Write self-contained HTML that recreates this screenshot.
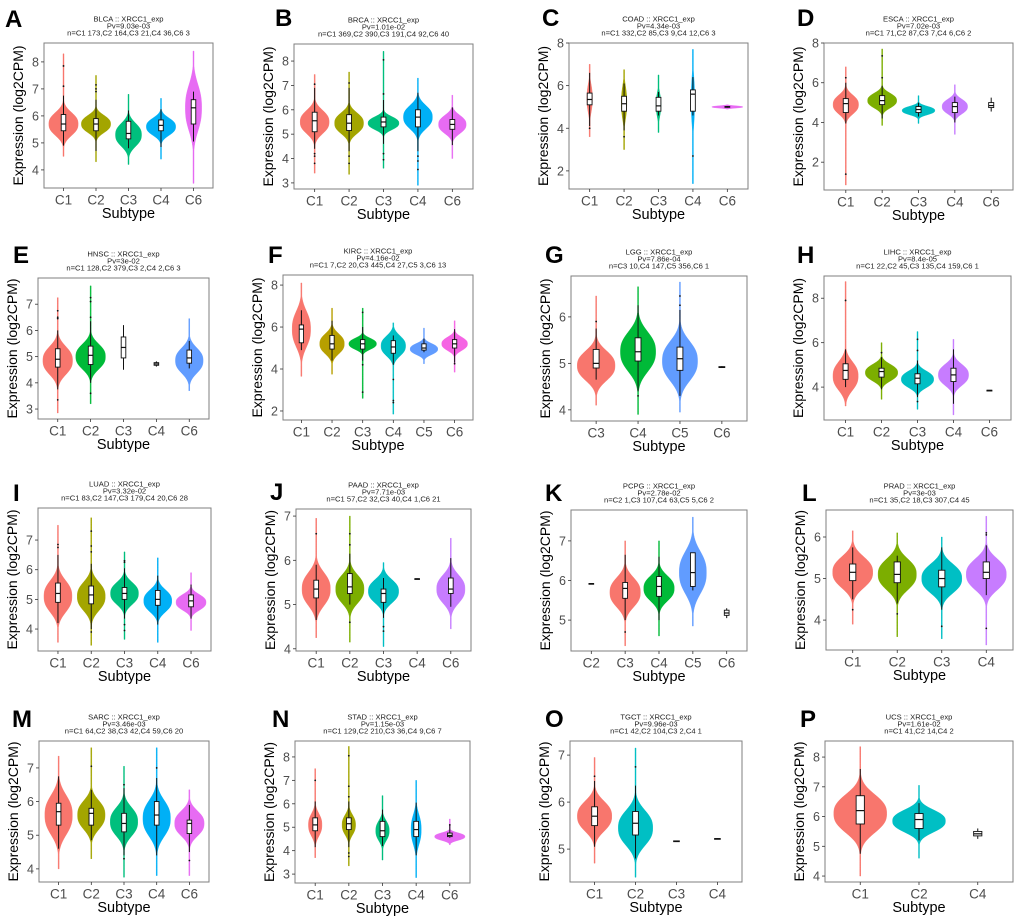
<!DOCTYPE html>
<html><head><meta charset="utf-8">
<style>
html,body{margin:0;padding:0;background:#fff;}
svg{display:block;font-family:"Liberation Sans",Arial,sans-serif;}
</style></head>
<body>
<svg id="fig" width="1020" height="920" viewBox="0 0 1020 920" xmlns="http://www.w3.org/2000/svg"></svg>
<script>
// ---------- data ----------
const panelLetters=["A","B","C","D","E","F","G","H","I","J","K","L","M","N","O","P"];
const panelCodes=["BLCA","BRCA","COAD","ESCA","HNSC","KIRC","LGG","LIHC","LUAD","PAAD","PCPG","PRAD","SARC","STAD","TGCT","UCS"];
const panelPvals=["9.03e-03","1.01e-02","4.34e-03","7.02e-03","3e-02","4.16e-02","7.86e-04","8.4e-05","3.32e-02","7.71e-03","2.78e-02","3e-03","3.46e-03","1.15e-03","9.96e-03","1.61e-02"];
const panelNs=["C1 173,C2 164,C3 21,C4 36,C6 3","C1 369,C2 390,C3 191,C4 92,C6 40","C1 332,C2 85,C3 9,C4 12,C6 3","C1 71,C2 87,C3 7,C4 6,C6 2",
"C1 128,C2 379,C3 2,C4 2,C6 3","C1 7,C2 20,C3 445,C4 27,C5 3,C6 13","C3 10,C4 147,C5 356,C6 1","C1 22,C2 45,C3 135,C4 159,C6 1",
"C1 83,C2 147,C3 179,C4 20,C6 28","C1 57,C2 32,C3 40,C4 1,C6 21","C2 1,C3 107,C4 63,C5 5,C6 2","C1 35,C2 18,C3 307,C4 45",
"C1 64,C2 38,C3 42,C4 59,C6 20","C1 129,C2 210,C3 36,C4 9,C6 7","C1 42,C2 104,C3 2,C4 1","C1 41,C2 14,C4 2"];
const panelCategories=[["C1","C2","C3","C4","C6"],["C1","C2","C3","C4","C6"],["C1","C2","C3","C4","C6"],["C1","C2","C3","C4","C6"],
["C1","C2","C3","C4","C6"],["C1","C2","C3","C4","C5","C6"],["C3","C4","C5","C6"],["C1","C2","C3","C4","C6"],
["C1","C2","C3","C4","C6"],["C1","C2","C3","C4","C6"],["C2","C3","C4","C5","C6"],["C1","C2","C3","C4"],
["C1","C2","C3","C4","C6"],["C1","C2","C3","C4","C6"],["C1","C2","C3","C4"],["C1","C2","C4"]];
const yTicks=[[4,5,6,7,8],[3,4,5,6,7,8],[2,4,6,8],[2,4,6,8],[3,4,5,6,7],[2,4,6,8],[4,5,6],[4,6,8],
[4,5,6,7],[4,5,6,7],[5,6,7],[4,5,6],[4,5,6,7],[3,4,5,6,7,8],[5,6,7],[4,5,6,7,8]];
const yLimits=[[3.33,8.7],[2.75,8.7],[1.15,8.0],[0.6,8.0],[2.62,8.0],[1.57,8.48],[3.76,6.88],[2.52,9.0],
[3.26,8.08],[3.95,7.16],[4.22,7.78],[3.28,6.65],[3.61,7.8],[2.62,8.68],[4.3,7.3],[3.8,8.54]];
// violin params per group: [lo, hi, mode, sd, halfWidthFraction] or null (no violin)
const violinParams=[
[[4.5,8.3,5.7,.4,.45],[4.3,7.5,5.7,.3,.45],[4.2,6.8,5.3,.4,.4],[4.4,6.65,5.6,.3,.45],[3.5,8.4,6.3,.8,.25]],
[[3.4,7.45,5.5,.45,.42],[3.35,7.55,5.45,.4,.42],[3.6,8.4,5.45,.25,.45],[2.9,7.3,5.7,.45,.42],[4.0,6.6,5.4,.35,.4]],
[[3.6,7.0,5.4,.6,.08],[3.0,6.75,5.2,.7,.08],[3.8,6.5,5.1,.5,.07],[1.4,7.7,5.3,1,.05],[4.9,5.1,5.0,.05,.45]],
[[.85,6.8,4.9,.45,.35],[3.85,7.7,5.1,.35,.4],[3.95,5.35,4.6,.2,.45],[3.4,5.9,4.8,.35,.35],null],
[[2.85,7.25,4.85,.5,.45],[3.2,7.7,5.0,.45,.45],null,null,[3.7,6.45,4.85,.45,.42]],
[[3.65,8.1,5.9,.8,.3],[3.75,6.9,5.2,.45,.4],[2.6,6.9,5.2,.25,.45],[1.85,6.2,5.1,.45,.4],[4.25,5.95,4.95,.25,.45],[3.85,6.3,5.2,.3,.42]],
[[4.1,6.45,4.95,.3,.45],[3.9,6.65,5.25,.4,.42],[3.95,6.75,5.05,.4,.42],null],
[[3.15,8.75,4.5,.6,.35],[3.45,6.0,4.65,.35,.45],[3.0,6.5,4.35,.35,.45],[2.75,6.15,4.55,.45,.42],null],
[[3.55,7.5,5.1,.5,.42],[3.45,7.75,5.1,.45,.42],[3.65,6.6,5.2,.35,.42],[3.55,6.4,4.95,.35,.42],[3.95,5.9,4.9,.25,.45]],
[[4.25,6.95,5.35,.35,.42],[4.15,7.0,5.35,.3,.42],[4.05,5.95,5.3,.25,.45],null,[4.45,6.5,5.35,.3,.42]],
[null,[4.35,7.0,5.7,.35,.45],[4.6,7.0,5.8,.3,.45],[4.85,7.6,6.2,.5,.4],null],
[[3.9,6.15,5.15,.35,.45],[3.6,6.1,5.1,.35,.43],[3.55,6.0,5.0,.33,.45],[3.4,6.5,5.1,.35,.45]],
[[4.0,7.35,5.6,.55,.42],[4.3,7.6,5.6,.4,.42],[3.75,7.05,5.4,.4,.42],[3.8,7.6,5.5,.5,.42],[3.8,6.35,5.35,.35,.45]],
[[3.7,7.5,5.1,.45,.2],[3.35,8.45,5.1,.4,.2],[3.6,6.35,4.85,.4,.2],[2.85,7.0,4.9,.6,.15],[4.25,5.35,4.6,.15,.45]],
[[4.7,6.95,5.7,.3,.42],[4.4,7.15,5.45,.35,.42],null,null],
[[4.0,8.35,6.1,.6,.45],[4.6,7.05,5.85,.35,.45],null]];
// box stats per group: [whiskerLow, q1, median, q3, whiskerHigh]
const boxStats=[
[[4.9,5.45,5.7,6.05,6.75],[4.7,5.45,5.7,5.9,6.6],[4.8,5.15,5.35,5.8,6.2],[4.85,5.45,5.65,5.85,6.25],[5.05,5.7,6.3,6.6,6.9]],
[[4.4,5.1,5.55,5.9,6.9],[4.3,5.15,5.45,5.8,6.9],[4.6,5.3,5.5,5.7,6.4],[4.3,5.3,5.7,6.0,6.7],[4.55,5.2,5.4,5.6,6.1]],
[[4.1,5.1,5.35,5.65,6.6],[3.9,4.8,5.15,5.5,6.1],[4.6,4.8,5.05,5.45,5.7],[4.6,4.8,5.6,5.8,6.4],[4.97,4.99,5.0,5.02,5.04]],
[[3.95,4.5,4.95,5.2,6.0],[4.2,4.9,5.1,5.35,5.85],[4.3,4.5,4.65,4.8,5.0],[4.0,4.5,4.8,5.0,5.3],[4.55,4.75,4.85,5.0,5.25]],
[[3.75,4.6,4.9,5.3,6.0],[4.0,4.7,5.05,5.4,6.35],[4.5,4.95,5.35,5.75,6.2],[4.62,4.67,4.72,4.77,4.82],[4.55,4.75,4.95,5.25,5.6]],
[[4.9,5.25,5.9,6.1,6.8],[4.4,4.95,5.2,5.6,6.3],[4.4,4.95,5.2,5.4,6.0],[4.2,4.75,5.05,5.35,5.6],[4.8,4.9,5.0,5.2,5.45],[4.3,5.0,5.2,5.4,5.9]],
[[4.65,4.9,5.0,5.3,5.75],[4.4,5.05,5.25,5.55,6.25],[4.3,4.85,5.1,5.35,6.15],[4.9,4.91,4.92,4.93,4.94]],
[[4.0,4.35,4.75,5.05,5.7],[3.9,4.45,4.7,4.85,5.35],[3.55,4.15,4.4,4.6,5.2],[3.25,4.25,4.55,4.85,5.7],[3.83,3.84,3.85,3.86,3.87]],
[[4.2,4.9,5.2,5.55,6.5],[4.0,4.85,5.15,5.45,6.2],[4.35,5.0,5.2,5.4,6.05],[4.15,4.8,5.0,5.3,5.8],[4.35,4.75,4.95,5.15,5.5]],
[[4.65,5.15,5.35,5.55,5.9],[5.0,5.25,5.4,5.7,6.15],[4.7,5.05,5.25,5.35,5.6],[5.57,5.575,5.58,5.585,5.59],[4.95,5.25,5.35,5.6,6.05]],
[[5.91,5.915,5.92,5.925,5.93],[5.0,5.55,5.8,5.95,6.65],[5.0,5.6,5.85,6.1,6.6],[5.75,5.85,6.2,6.7,6.7],[5.05,5.12,5.18,5.25,5.3]],
[[4.5,4.95,5.15,5.35,5.75],[4.4,4.9,5.1,5.4,5.55],[4.25,4.8,5.0,5.2,5.75],[4.6,5.0,5.15,5.4,5.8]],
[[4.6,5.3,5.7,5.95,6.75],[4.85,5.3,5.65,5.8,6.35],[4.4,5.1,5.35,5.65,6.4],[4.4,5.3,5.6,6.0,6.7],[4.5,5.05,5.35,5.45,5.9]],
[[4.15,4.85,5.1,5.4,6.1],[4.15,4.9,5.15,5.4,6.1],[4.2,4.6,4.85,5.25,5.75],[3.8,4.6,4.9,5.25,6.05],[4.55,4.6,4.65,4.75,5.1]],
[[5.05,5.5,5.7,5.9,6.45],[4.8,5.3,5.55,5.8,6.35],[5.16,5.165,5.17,5.175,5.18],[5.21,5.215,5.22,5.225,5.23]],
[[4.75,5.75,6.2,6.7,7.6],[5.2,5.6,5.9,6.1,6.45],[5.25,5.35,5.42,5.5,5.6]]];
const outliers=[
[[7.1,7.85],[7.0,7.15,6.9],[],[],[]],
[[3.8,4.1,4.2,7.05],[3.8,4.1,7.1],[3.95,4.2,6.65,8.05],[3.55,3.9,4.1],[]],
[[4.0],[3.6],[],[2.7],[]],
[[1.4,6.25],[6.25,7.35],[],[],[]],
[[3.35,6.45,6.5,6.75],[3.6,6.5,7.1,7.25],[],[],[]],
[[],[],[2.9,4.2,6.7],[2.4,2.5,3.5],[],[4.25]],
[[5.9],[4.3],[6.25,6.45],[]],
[[7.9],[5.55],[3.35,5.65,6.15],[],[]],
[[6.75,6.85],[3.9,6.6,6.8,7.3],[3.95,4.15,6.25,6.3],[],[]],
[[6.6],[4.6,6.35,6.6],[4.4,4.5],[],[]],
[[],[4.7],[],[],[]],
[[4.25],[4.15],[3.85],[3.8,6.05,6.1]],
[[],[7.05],[4.3,6.5],[7.0],[4.25]],
[[7.0],[3.75,3.9,6.3,6.75,8.05],[],[],[5.1]],
[[6.55],[6.75],[],[]],
[[],[],[]]];

// ---------- layout (pixels) ----------
const plotBoxes=[[44,43,213,188],[294,44,473,189],[569,43,748,189],[824,43,1013,190],
[38,278,209,419],[283,275,473,420],[571,276,747,421],[824,276,1011,420],
[38,508,211,651],[296,509,471,651],[571,510,747,651],[826,510,1013,650],
[39,741,209,882],[295,741,470,883],[570,741,742,882],[825,741,1013,882]];
const letterPos=[[5,27],[275,26],[542,26],[797,26],[13,263],[268,263],[545,263],[797,263],
[13,501],[270,500],[545,501],[802,501],[12,727],[272,727],[545,727],[800,727]];
const palettes={1:["#F8766D"],2:["#F8766D","#00BFC4"],3:["#F8766D","#00BA38","#619CFF"],4:["#F8766D","#7CAE00","#00BFC4","#C77CFF"],
5:["#F8766D","#A3A500","#00BF7D","#00B0F6","#E76BF3"],6:["#F8766D","#B79F00","#00BA38","#00BFC4","#619CFF","#F564E3"]};

const NS="http://www.w3.org/2000/svg";
const svg=document.getElementById("fig");
function mk(tag,attrs,parent){const e=document.createElementNS(NS,tag);for(const k in attrs)e.setAttribute(k,attrs[k]);(parent||svg).appendChild(e);return e;}

panelLetters.forEach((L,p)=>{
  const g=mk("g",{});
  
  
  const [x0,y0,x1,y1]=plotBoxes[p];
  const [lo,hi]=yLimits[p];
  const yS=v=>y1-(v-lo)/(hi-lo)*(y1-y0);
  const cats=panelCategories[p];
  const step=(x1-x0)/(cats.length+0.2);
  const xS=i=>x0+step*(0.6+i);
  const cx=(x0+x1)/2;
  const lt=mk("text",{x:letterPos[p][0],y:letterPos[p][1],"font-size":24,"font-weight":"bold",fill:"#000"},g);
  lt.textContent=L;
  
  
  const tl=[panelCodes[p]+" :: XRCC1_exp","Pv="+panelPvals[p],"n="+panelNs[p]];
  tl.forEach((t,k)=>{
    const te=mk("text",{x:cx,y:y0-21.5+k*7,"font-size":7.6,"text-anchor":"middle",fill:"#222"},g);
    te.textContent=t;
    
    
  });
  const fr=mk("rect",{x:x0,y:y0,width:x1-x0,height:y1-y0,fill:"#fff",stroke:"#7f7f7f","stroke-width":1},g);
  
  
  yTicks[p].forEach(t=>{
    const y=yS(t);
    const tk=mk("line",{x1:x0-3,x2:x0,y1:y,y2:y,stroke:"#333","stroke-width":0.8},g);
    
    
    const tx=mk("text",{x:x0-5,y:y+4.5,"font-size":12.5,"text-anchor":"end",fill:"#4d4d4d"},g);
    tx.textContent=t;
    
    
  });
  const yl=mk("text",{x:0,y:0,"font-size":14,"text-anchor":"middle",fill:"#000",transform:`translate(${x0-21},${(y0+y1)/2}) rotate(-90)`},g);
  yl.textContent="Expression (log2CPM)";
  
  
  cats.forEach((c,i)=>{
    const tk=mk("line",{x1:xS(i),x2:xS(i),y1:y1,y2:y1+3,stroke:"#333","stroke-width":0.8},g);
    
    
    const tx=mk("text",{x:xS(i),y:y1+16.5,"font-size":13.5,"text-anchor":"middle",fill:"#4d4d4d"},g);
    tx.textContent=c;
    
    
  });
  const xl=mk("text",{x:cx,y:y1+30,"font-size":14.5,"text-anchor":"middle",fill:"#000"},g);
  xl.textContent="Subtype";
  
  
  const nV=violinParams[p].filter(v=>v).length;
  const pal=palettes[nV]||palettes[5];
  let ci=0;
  violinParams[p].forEach((vp,i)=>{
    const X=xS(i);
    if(vp){
      const [vlo,vhi,mode,sd,W]=vp;
      const N=70,left=[],right=[];
      for(let k=0;k<=N;k++){
        const v=vlo+(vhi-vlo)*k/N;
        const z=Math.abs((v-mode)/sd);
        const w=Math.max(0.5,W*step*Math.exp(-0.5*Math.pow(z,2.6)));
        const y=yS(v);
        right.push((X+w).toFixed(2)+","+y.toFixed(2));
        left.unshift((X-w).toFixed(2)+","+y.toFixed(2));
      }
      const vi=mk("polygon",{points:right.concat(left).join(" "),fill:pal[ci],stroke:pal[ci],"stroke-width":0.4},g);
      
      
      ci++;
    }
    const [wl,q1,md,q3,wh]=boxStats[p][i];
    const bw=Math.max(4,step*0.14);
    const w1=mk("line",{x1:X,x2:X,y1:yS(wl),y2:yS(wh),stroke:"#111","stroke-width":1},g);
    
    
    const bx=mk("rect",{x:X-bw/2,y:yS(q3),width:bw,height:Math.max(0.8,yS(q1)-yS(q3)),fill:"#fff",stroke:"#111","stroke-width":0.9},g);
    
    
    const ml=mk("line",{x1:X-bw/2,x2:X+bw/2,y1:yS(md),y2:yS(md),stroke:"#111","stroke-width":1.2},g);
    
    
    outliers[p][i].forEach(o=>{
      const d=mk("circle",{cx:X,cy:yS(o),r:0.9,fill:"#111"},g);
      
      
    });
  });
});
</script>
</body></html>
